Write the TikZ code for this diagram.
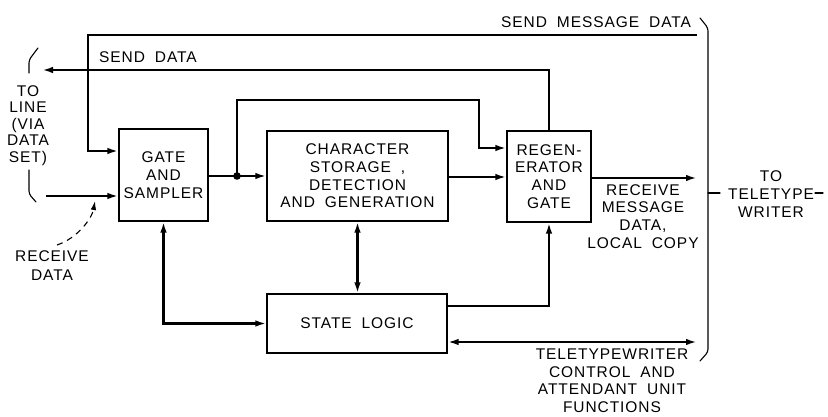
\documentclass[tikz,border=0pt]{standalone}
\usepackage{fontspec}
\setmainfont{Liberation Sans}[LetterSpace=6,WordSpace=1.9]
\usetikzlibrary{arrows.meta}
\newcommand\dfont{\fontsize{15.5}{17.7}\selectfont}
\begin{document}
\begin{tikzpicture}[x=1pt,y=-1pt,
  box/.style={draw,line width=1.2pt,inner sep=0pt,align=center,font=\dfont},
  conn/.style={line width=2.3pt},
  tip/.style={-{Latex[length=11pt,width=6.5pt]}},
  dtip/.style={{Latex[length=11pt,width=6.5pt]}-{Latex[length=11pt,width=6.5pt]}},
  lbl/.style={inner sep=0pt,align=center,anchor=north,font=\dfont},
  brace/.style={line width=1.1pt,line join=round,line cap=round}]
\useasboundingbox[fill=white] (0,0) rectangle (828,417);

% blocks
\node[box,minimum width=89pt,minimum height=92pt] (gate) at (163.5,175) {GATE\\AND\\SAMPLER};
\node[box,minimum width=181pt,minimum height=90pt] (chars) at (357.5,176) {CHARACTER\\STORAGE ,\\DETECTION\\AND GENERATION};
\node[box,minimum width=84pt,minimum height=91pt] (regen) at (549,176.5) {REGEN-\\ERATOR\\AND\\GATE};
\node[box,minimum width=180pt,minimum height=59pt] (state) at (357,323.5) {STATE LOGIC};

% free ends
\coordinate (smdR) at (697,35);
\coordinate (lineout) at (42,70);
\coordinate (rxin) at (46,196);
\coordinate (rmd) at (697,178);
\coordinate (ttw) at (697,342);
\coordinate (jn) at (237,176);
\coordinate (rdlab) at (57,245);

% connectors
\draw[conn,tip] (smdR) -| (88,151) -- (gate.west |- 0,151);
\draw[conn,tip] (regen.north) |- (lineout);
\draw[conn,tip] (gate.east |- jn) -- (chars.west |- jn);
\fill (jn) circle (3.8);
\draw[conn,tip] (jn) |- (479,100) |- (regen.west |- 0,148);
\draw[conn,tip] (chars.east |- 0,177) -- (regen.west |- 0,177);
\draw[conn,tip] (regen.east |- 0,178) -- (rmd);
\draw[conn,tip] (rxin) -- (gate.west |- rxin);
\draw[conn,dtip] (gate.south) |- (state.west);
\draw[conn,dtip] (chars.south) -- (chars.south |- state.north);
\draw[conn,tip] (state.east |- 0,306) -| (regen.south);
\draw[conn,dtip] (state.east |- ttw) -- (ttw);
\draw[line width=1.1pt,dash pattern=on 6pt off 5pt,-{Latex[length=9pt,width=5.5pt]}]
  (rdlab) .. controls (78,238) and (92,218) .. (95,201);

% brackets
\draw[brace,rounded corners=3pt] (38,48) -- (29,60) -- (29,73);
\draw[brace,rounded corners=3pt] (29,170) -- (29,194) -- (36,202);
\draw[brace,rounded corners=3pt] (700,18) -- (708,28) -- (708,352) -- (700,361);
\draw[brace] (708,193) -- (720,193);
\draw[brace] (815,193) -- (823,193);

% labels
\node[lbl,anchor=base west] (smdl) at (501,28) {SEND MESSAGE DATA};
\node[lbl,anchor=base west] (sdl) at (99,63) {SEND DATA};
\node[lbl,font=\fontsize{15.5}{16.5}\selectfont] (tol) at (28,85) {TO\\LINE\\(VIA\\DATA\\SET)};
\node[lbl,font=\fontsize{15.5}{19}\selectfont] (rdl) at (52,250) {RECEIVE\\DATA};
\node[lbl] (rml) at (643,184) {RECEIVE\\MESSAGE\\DATA,\\LOCAL COPY};
\node[lbl,font=\fontsize{15.5}{17.5}\selectfont] (ttl) at (612,349) {TELETYPEWRITER\\CONTROL AND\\ATTENDANT UNIT\\FUNCTIONS};
\node[lbl,font=\fontsize{15.5}{18}\selectfont] (ttyl) at (771,170) {TO\\TELETYPE\\WRITER};
\end{tikzpicture}
\end{document}
